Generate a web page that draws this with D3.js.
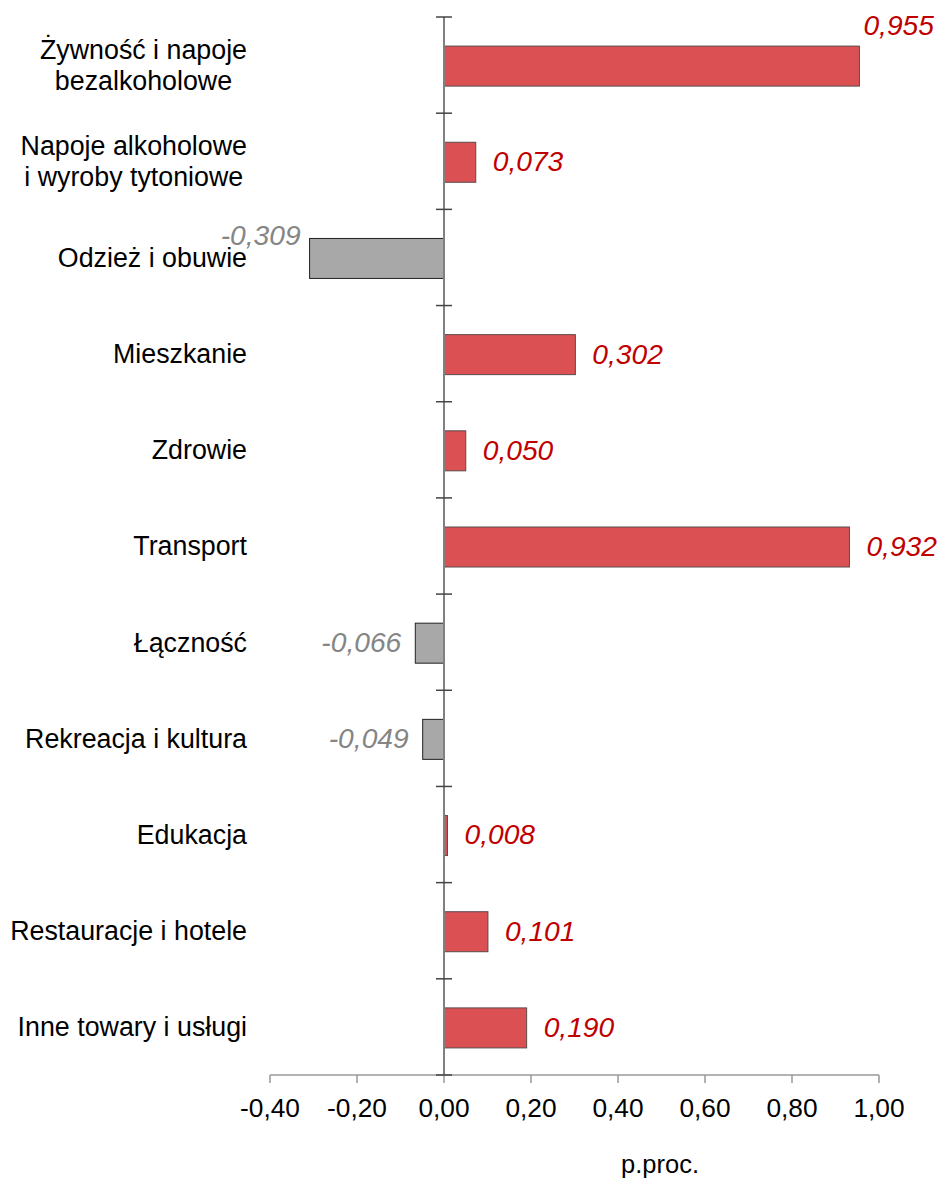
<!DOCTYPE html>
<html>
<head>
<meta charset="utf-8">
<script src="https://d3js.org/d3.v7.min.js"></script>
<style>
body { margin: 0; background: #fff; }
text { font-family: "Liberation Sans", Arial, sans-serif; }
</style>
</head>
<body>
<script>
// categories (each entry is a list of lines)
var categories = [
  ["Żywność i napoje", "bezalkoholowe"],
  ["Napoje alkoholowe", "i wyroby tytoniowe"],
  ["Odzież i obuwie"],
  ["Mieszkanie"],
  ["Zdrowie"],
  ["Transport"],
  ["Łączność"],
  ["Rekreacja i kultura"],
  ["Edukacja"],
  ["Restauracje i hotele"],
  ["Inne towary i usługi"]
];
var values = [0.955, 0.073, -0.309, 0.302, 0.050, 0.932, -0.066, -0.049, 0.008, 0.101, 0.190];
var xTicks = [-0.4, -0.2, 0, 0.2, 0.4, 0.6, 0.8, 1.0];
var axisTitle = "p.proc.";

var width = 942, height = 1182;
var svg = d3.select("body").append("svg")
  .attr("width", width)
  .attr("height", height);

var x = d3.scaleLinear().domain([-0.4, 1.0]).range([270, 879]);
var y = d3.scaleBand().domain(d3.range(categories.length)).range([17, 1075]);

var fmt = function(v) { return d3.format(".3f")(v).replace(".", ",").replace("−", "-"); };
var fmtTick = function(v) { return d3.format(".2f")(v).replace(".", ",").replace("−", "-"); };

var barH = 40;

// bars
svg.selectAll("rect.bar")
  .data(values)
  .enter()
  .append("rect")
  .attr("class", "bar")
  .attr("x", d => x(Math.min(0, d)))
  .attr("width", d => Math.abs(x(d) - x(0)))
  .attr("y", (d, i) => y(i) + y.bandwidth() / 2 - barH / 2 + 1)
  .attr("height", barH)
  .attr("fill", d => d >= 0 ? "#db5053" : "#a8a8a8")
  .attr("stroke", d => d >= 0 ? "#5a4a4a" : "#222")
  .attr("stroke-width", 1);

// bottom axis
var xAxis = svg.append("g").attr("transform", "translate(0,1075)");
xAxis.append("line")
  .attr("x1", x(-0.4)).attr("x2", x(1.0))
  .attr("stroke", "#999").attr("stroke-width", 1.5);
xAxis.selectAll("line.tick")
  .data(xTicks)
  .enter()
  .append("line")
  .attr("class", "tick")
  .attr("x1", d => x(d)).attr("x2", d => x(d))
  .attr("y1", 0).attr("y2", 8)
  .attr("stroke", "#999").attr("stroke-width", 1.5);
xAxis.selectAll("text")
  .data(xTicks)
  .enter()
  .append("text")
  .attr("x", d => x(d))
  .attr("y", 42)
  .attr("text-anchor", "middle")
  .attr("font-size", 26.3)
  .attr("fill", "#000")
  .text(fmtTick);

svg.append("text")
  .attr("x", 660)
  .attr("y", 1173)
  .attr("text-anchor", "middle")
  .attr("font-size", 25.5)
  .attr("fill", "#000")
  .text(axisTitle);

// vertical axis at zero
svg.append("line")
  .attr("x1", x(0)).attr("x2", x(0))
  .attr("y1", 17).attr("y2", 1075)
  .attr("stroke", "#808080").attr("stroke-width", 2);
svg.selectAll("line.ytick")
  .data(d3.range(categories.length + 1))
  .enter()
  .append("line")
  .attr("class", "ytick")
  .attr("x1", x(0) - 8).attr("x2", x(0) + 8)
  .attr("y1", i => i < categories.length ? y(i) : 1075)
  .attr("y2", i => i < categories.length ? y(i) : 1075)
  .attr("stroke", "#444").attr("stroke-width", 1.5);

// category labels, block right-aligned, lines centred
var labelRight = 247, lineGap = 31;
categories.forEach(function(lines, i) {
  var g = svg.append("g");
  var cy = y(i) + y.bandwidth() / 2;
  var texts = lines.map(function(line, j) {
    return g.append("text")
      .attr("y", cy + (j - (lines.length - 1) / 2) * lineGap)
      .attr("dy", "0.35em")
      .attr("text-anchor", "middle")
      .attr("font-size", 26.8)
      .attr("fill", "#000")
      .text(line);
  });
  var maxW = d3.max(texts, t => t.node().getComputedTextLength());
  texts.forEach(t => t.attr("x", labelRight - maxW / 2));
});

// value labels
var labelShift = { 0: { dx: -13, dy: -40 }, 2: { dx: -5, dy: -22 } };
svg.selectAll("text.val")
  .data(values)
  .enter()
  .append("text")
  .attr("class", "val")
  .attr("x", (d, i) => {
    var s = labelShift[i] ? labelShift[i].dx : 0;
    return d >= 0 ? x(d) + 17 + s : x(d) - 14 - s;
  })
  .attr("y", (d, i) => y(i) + y.bandwidth() / 2 + (labelShift[i] ? labelShift[i].dy : 0))
  .attr("dy", "0.35em")
  .attr("text-anchor", d => d >= 0 ? "start" : "end")
  .attr("font-size", 28.2)
  .attr("font-style", "italic")
  .attr("fill", d => d >= 0 ? "#c00000" : "#858585")
  .text(fmt);
</script>
</body>
</html>
